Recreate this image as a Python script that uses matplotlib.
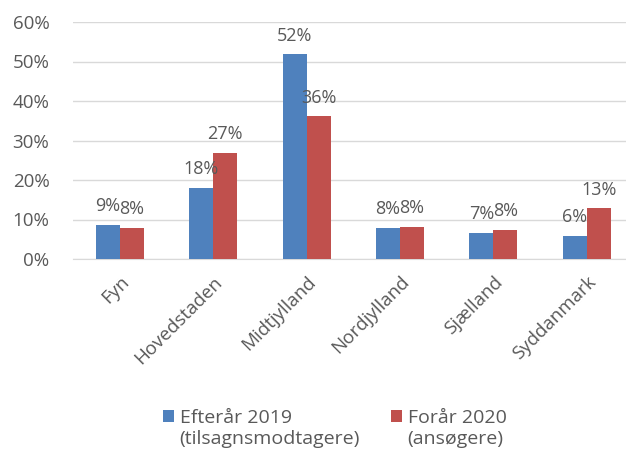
import matplotlib.pyplot as plt
import numpy as np
from matplotlib.ticker import PercentFormatter

# Data
regions = ['Fyn', 'Hovedstaden', 'Midtjylland', 'Nordjylland', 'Sjælland', 'Syddanmark']
efteraar_2019 = [8.6, 18.1, 51.8, 7.9, 6.6, 5.8]
foraar_2020 = [7.8, 26.9, 36.1, 8.2, 7.4, 12.8]
labels_2019 = ['9%', '18%', '52%', '8%', '7%', '6%']
labels_2020 = ['8%', '27%', '36%', '8%', '8%', '13%']
series_names = ['Efterår 2019\n(tilsagnsmodtagere)', 'Forår 2020\n(ansøgere)']

blue = '#4f81bd'
red = '#c0504d'
txt = '#595959'

plt.rcParams['font.family'] = ['Open Sans', 'DejaVu Sans']

fig = plt.figure(figsize=(6.26, 4.54), dpi=100)
ax = fig.add_axes([73 / 626, 1 - 259 / 454, 1 - 73 / 626, (259 - 22) / 454])

x = np.arange(len(regions))
w = 0.257
b1 = ax.bar(x - w / 2, efteraar_2019, w, color=blue, label=series_names[0], zorder=3)
b2 = ax.bar(x + w / 2, foraar_2020, w, color=red, label=series_names[1], zorder=3)

for bars, labs in ((b1, labels_2019), (b2, labels_2020)):
    for bar, lab in zip(bars, labs):
        ax.annotate(lab, (bar.get_x() + bar.get_width() / 2, bar.get_height()),
                    xytext=(0, 7), textcoords='offset points', ha='center', va='bottom',
                    fontsize=13, color=txt)

ax.set_ylim(0, 60)
ax.set_yticks(range(0, 61, 10))
ax.yaxis.set_major_formatter(PercentFormatter(decimals=0))
ax.set_xlim(-0.5, 5.42)
ax.set_xticks(x)
ax.set_xticklabels(regions, rotation=45, ha='right', rotation_mode='anchor')
ax.grid(axis='y', color='#d9d9d9', linewidth=1, zorder=0)
for s in ['top', 'right', 'left']:
    ax.spines[s].set_visible(False)
ax.spines['bottom'].set_color('#d9d9d9')
ax.tick_params(length=0, labelsize=13.5, colors=txt)
ax.tick_params(axis='y', pad=17)
ax.tick_params(axis='x', pad=10)

leg = fig.legend(loc='lower center', bbox_to_anchor=(0.535, -0.025), ncol=2, frameon=False,
                 fontsize=14, handlelength=0.55, handleheight=0.55, handletextpad=0.3,
                 columnspacing=1.6, labelcolor=txt, labelspacing=0.2)
# put the colour square next to the first text line, as in the original
for h in leg.legend_handles:
    h.set_y(h.get_y() + 9)

fig.savefig('out.png', dpi=100)
